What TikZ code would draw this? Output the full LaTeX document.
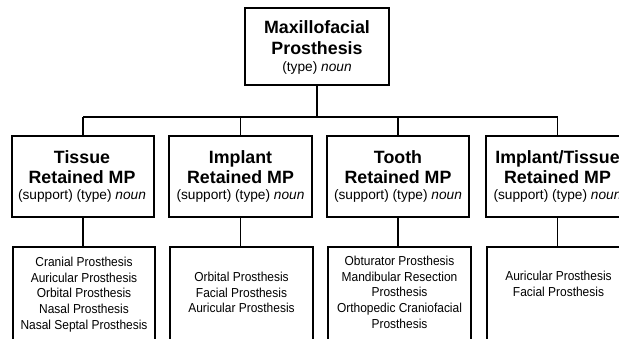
\documentclass[tikz,border=0pt]{standalone}
\usepackage{fontspec}
\setmainfont{Liberation Sans}
\newfontfamily\condfont[FakeStretch=0.92]{Liberation Sans}
\begin{document}
\begin{tikzpicture}[x=1pt,y=-1pt,
  box/.style={draw=black,line width=2.4pt,rectangle,inner sep=0pt,fill=white},
  link/.style={draw=black,line width=1.3pt},
  ttl/.style={anchor=base,inner sep=0pt,font=\fontsize{17.8}{20}\selectfont\bfseries},
  sub/.style={anchor=base,inner sep=0pt,font=\fontsize{13.7}{16}\selectfont},
  lst/.style={anchor=north,inner sep=0pt,align=center,font=\fontsize{13}{15.9}\selectfont\condfont}]
\useasboundingbox (0,0) rectangle (619,339);
\fill[white] (0,0) rectangle (619,339);
\clip (0,0) rectangle (619,339);
% boxes
\node[box,minimum width=144pt,minimum height=77pt] (mp) at (317,46.5) {};
\node[box,minimum width=142pt,minimum height=81pt] (t1) at (83,176.5) {};
\node[box,minimum width=143pt,minimum height=81pt] (t2) at (240.5,176.5) {};
\node[box,minimum width=142pt,minimum height=81pt] (t3) at (398,176.5) {};
\node[box,minimum width=143pt,minimum height=81pt] (t4) at (557.5,176.5) {};
\node[box,minimum width=142pt,minimum height=113pt] (l1) at (84,303.5) {};
\node[box,minimum width=143pt,minimum height=113pt] (l2) at (241.5,303.5) {};
\node[box,minimum width=143pt,minimum height=113pt] (l3) at (399.5,303.5) {};
\node[box,minimum width=143pt,minimum height=113pt] (l4) at (558.5,303.5) {};
% connectors
\coordinate (bar) at (0,117);
\draw[link] (mp.south) -- (mp.south |- bar);
\draw[link] (t1.north |- bar) -- (t4.north |- bar);
\foreach \n in {t1,t2,t3,t4}{\draw[link] (\n.north) -- (\n.north |- bar);}
\draw[link] (t1.south) -- (t1.south |- l1.north);
\draw[link] (t2.south) -- (t2.south |- l2.north);
\draw[link] (t3.south) -- (t3.south |- l3.north);
\draw[link] (t4.south) -- (t4.south |- l4.north);
% top text
\node[ttl] (mpa) at (317,34) {Maxillofacial};
\node[ttl] (mpb) at (317,54.5) {Prosthesis};
\node[sub] (mpc) at (317,71.5) {(type) \textit{noun}};
% row 1 text
\node[ttl] (t1a) at (82,164) {Tissue};
\node[ttl] (t1b) at (82,184) {Retained MP};
\node[sub] (t1c) at (82,200) {(support) (type) \textit{noun}};
\node[ttl] (t2a) at (240.5,164) {Implant};
\node[ttl] (t2b) at (240.5,184) {Retained MP};
\node[sub] (t2c) at (240.5,200) {(support) (type) \textit{noun}};
\node[ttl] (t3a) at (398,164) {Tooth};
\node[ttl] (t3b) at (398,184) {Retained MP};
\node[sub] (t3c) at (398,200) {(support) (type) \textit{noun}};
\node[ttl] (t4a) at (557.5,164) {Implant/Tissue};
\node[ttl] (t4b) at (557.5,184) {Retained MP};
\node[sub] (t4c) at (557.5,200) {(support) (type) \textit{noun}};
% lists
\node[lst] (x1) at (84,256.5) {Cranial Prosthesis\\Auricular Prosthesis\\Orbital Prosthesis\\Nasal Prosthesis\\Nasal Septal Prosthesis};
\node[lst] (x2) at (241.5,271.5) {Orbital Prosthesis\\Facial Prosthesis\\Auricular Prosthesis};
\node[lst] (x3) at (399.5,255.5) {Obturator Prosthesis\\Mandibular Resection\\Prosthesis\\Orthopedic Craniofacial\\Prosthesis};
\node[lst] (x4) at (558.5,270.5) {Auricular Prosthesis\\Facial Prosthesis};
\end{tikzpicture}
\end{document}
